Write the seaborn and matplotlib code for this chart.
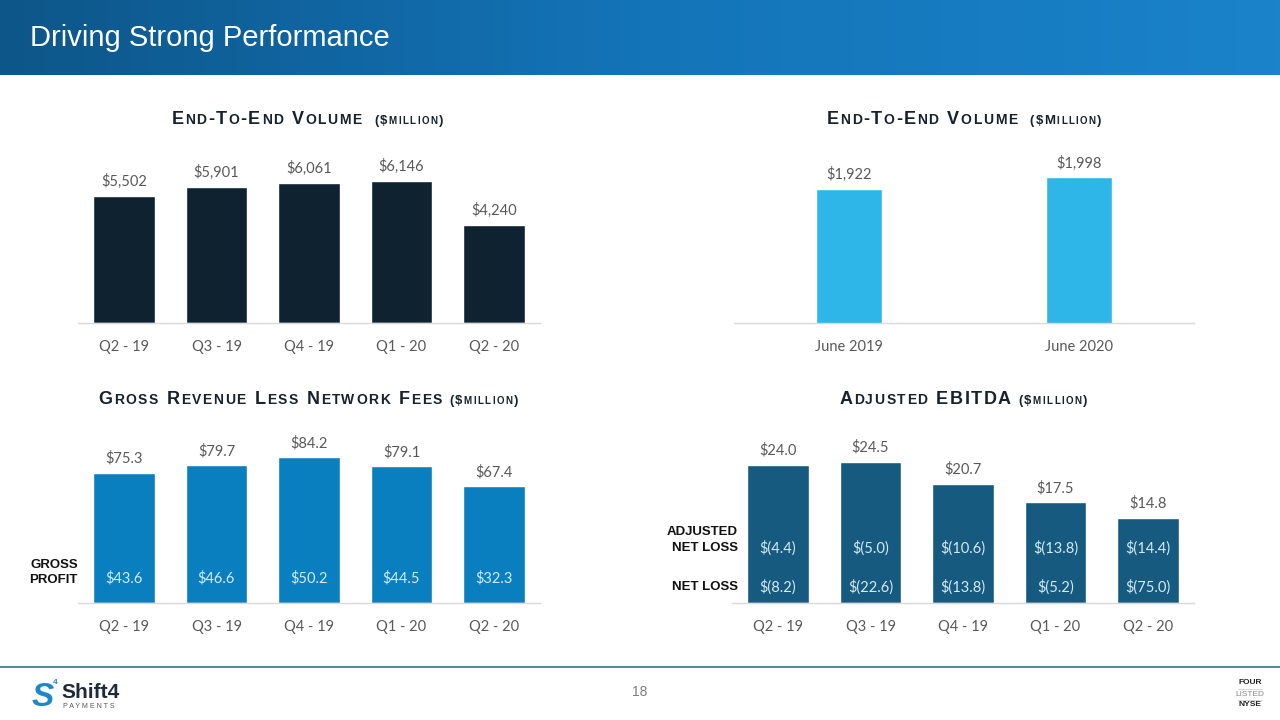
import matplotlib.colors as mcolors
import matplotlib.pyplot as plt
import numpy as np
import pandas as pd
import seaborn as sns

quarters = ["Q2 - 19", "Q3 - 19", "Q4 - 19", "Q1 - 20", "Q2 - 20"]
e2e_volume = [5502, 5901, 6061, 6146, 4240]
june_periods = ["June 2019", "June 2020"]
june_volume = [1922, 1998]
gross_rev = [75.3, 79.7, 84.2, 79.1, 67.4]
gross_profit = [43.6, 46.6, 50.2, 44.5, 32.3]
adj_ebitda = [24.0, 24.5, 20.7, 17.5, 14.8]
adj_net_loss = [-4.4, -5.0, -10.6, -13.8, -14.4]
net_loss = [-8.2, -22.6, -13.8, -5.2, -75.0]

W, H = 1280, 720
TITLE_C = "#17222d"
LABEL_C = "#595959"
INNER_C = "#d3ebf7"

sns.set_theme(style="white")
plt.rcParams["font.family"] = ["Lato", "DejaVu Sans"]

fig = plt.figure(figsize=(12.8, 7.2), dpi=100)
renderer = fig.canvas.get_renderer()


def money(v, dec=0):
    s = f"{abs(v):,.{dec}f}"
    return f"$({s})" if v < 0 else f"${s}"


def px_axes(x0, x1, ytop, ybot):
    return fig.add_axes([x0 / W, 1 - ybot / H, (x1 - x0) / W, (ybot - ytop) / H])


def bar_panel(ax, cats, vals, color, width, ylim, labels):
    df = pd.DataFrame({"cat": cats, "val": vals})
    sns.barplot(data=df, x="cat", y="val", color=color, width=width,
                saturation=1, ax=ax)
    ax.set_xlim(-0.5, len(cats) - 0.5)
    ax.set_ylim(*ylim)
    ax.set_xlabel("")
    ax.set_ylabel("")
    ax.set_yticks([])
    sns.despine(ax=ax, left=True)
    ax.spines["bottom"].set_color("#d9d9d9")
    ax.spines["bottom"].set_linewidth(1)
    ax.tick_params(axis="x", length=0, pad=12, labelcolor=LABEL_C, labelsize=10.5)
    ax.patch.set_alpha(0)
    ax.bar_label(ax.containers[0], labels=labels, padding=5,
                 color=LABEL_C, fontsize=10.5)


def smallcaps(xc, y_base, parts, tracking=1.5):
    # parts: (text, big size, small size); lowercase letters become small caps
    items = []
    total = 0
    for text, big, small in parts:
        for ch in text:
            size = small if ch.islower() else big
            if ch == " ":
                w = size * 0.4 * 100 / 72
                items.append((None, w))
            else:
                t = fig.text(0, 1 - y_base / H, ch.upper(), fontsize=size,
                             fontweight="bold", family="Liberation Sans",
                             color=TITLE_C, va="baseline")
                w = t.get_window_extent(renderer).width + tracking
                items.append((t, w))
            total += w
    x = xc - total / 2
    for t, w in items:
        if t is not None:
            t.set_x(x / W)
        x += w


def row_label(x_px, y_px, txt):
    fig.text(x_px / W, 1 - y_px / H, txt, ha="right", va="center", fontsize=9.5,
             fontweight="bold", family="Liberation Sans", color="#111111")


# header band
hdr = fig.add_axes([0, 1 - 75 / H, 1, 75 / H])
cmap = mcolors.LinearSegmentedColormap.from_list("hdr", ["#0d5689", "#1474b8", "#1a83ca"])
hdr.imshow(np.linspace(0, 1, 256)[None, :], aspect="auto", cmap=cmap, extent=[0, 1, 0, 1])
hdr.axis("off")
fig.text(30 / W, 1 - 38 / H, "Driving Strong Performance", color="white",
         fontsize=21, family="Liberation Sans", va="center")

# top-left: end-to-end volume by quarter
ax1 = px_axes(77.75, 540.25, 150, 323)
bar_panel(ax1, quarters, e2e_volume, "#0f2230", 0.67, (0, 7500),
          [money(v) for v in e2e_volume])
smallcaps(308, 124, [("End-To-End Volume", 13, 10), ("  ", 10, 10), ("($million)", 9.5, 7)])

# top-right: end-to-end volume, June
ax2 = px_axes(734, 1194, 148, 323)
bar_panel(ax2, june_periods, june_volume, "#2eb6e8", 0.287, (1000, 2200),
          [money(v) for v in june_volume])
smallcaps(965, 124, [("End-To-End Volume", 13, 10), ("  ", 10, 10), ("($Million)", 9.5, 7)])

# bottom-left: gross revenue less network fees
ax3 = px_axes(77.75, 540.25, 430, 603)
bar_panel(ax3, quarters, gross_rev, "#0a7fc0", 0.67, (0, 100),
          [money(v, 1) for v in gross_rev])
smallcaps(309, 404, [("Gross Revenue Less Network Fees", 13, 10), (" ", 10, 10), ("($million)", 9.5, 7)])
for i, v in enumerate(gross_profit):
    ax3.text(i, (603 - 578) / 173, money(v, 1), transform=ax3.get_xaxis_transform(),
             ha="center", va="center", color=INNER_C, fontsize=10.5)
row_label(78, 565, "GROSS")
row_label(78, 580, "PROFIT")

# bottom-right: adjusted EBITDA
ax4 = px_axes(731.75, 1194.25, 430, 603)
bar_panel(ax4, quarters, adj_ebitda, "#165a7f", 0.67, (0, 30),
          [money(v, 1) for v in adj_ebitda])
smallcaps(964, 404, [("Adjusted EBITDA", 13, 10), (" ", 10, 10), ("($million)", 9.5, 7)])
for i, (a, n) in enumerate(zip(adj_net_loss, net_loss)):
    ax4.text(i, (603 - 548) / 173, money(a, 1), transform=ax4.get_xaxis_transform(),
             ha="center", va="center", color=INNER_C, fontsize=10.5)
    ax4.text(i, (603 - 587) / 173, money(n, 1), transform=ax4.get_xaxis_transform(),
             ha="center", va="center", color=INNER_C, fontsize=10.5)
row_label(738, 532, "ADJUSTED")
row_label(738, 548, "NET LOSS")
row_label(738, 587, "NET LOSS")

# footer
fig.add_artist(plt.Line2D([0, 1], [1 - 667 / H] * 2, color="#3a6f8c", lw=1.2,
                          transform=fig.transFigure))
fig.text(640 / W, 1 - 692 / H, "18", ha="center", va="center", fontsize=10,
         color="#7f7f7f", family="Liberation Sans")
fig.text(43 / W, 1 - 697 / H, "S", ha="center", va="center", fontsize=24,
         fontweight="bold", style="italic", color="#1d87c7", family="Liberation Sans")
fig.text(55 / W, 1 - 683 / H, "4", ha="center", va="center", fontsize=6,
         fontweight="bold", color="#1d87c7", family="Liberation Sans")
fig.text(61 / W, 1 - 692 / H, "Shift4", ha="left", va="center", fontsize=15,
         fontweight="bold", color="#1e2a3a", family="Liberation Sans")
fig.text(63 / W, 1 - 707 / H, "P A Y M E N T S", ha="left", va="center", fontsize=5,
         color="#555555", family="Liberation Sans")
for txt, y, wgt, col in [("FOUR", 683, "bold", "#222222"), ("LISTED", 694, "normal", "#888888"),
                         ("NYSE", 705, "bold", "#222222")]:
    fig.text(1250 / W, 1 - y / H, txt, ha="center", va="center", fontsize=6,
             fontweight=wgt, color=col, family="Liberation Sans")
for y in (688.5, 699.5):
    fig.add_artist(plt.Line2D([1238 / W, 1262 / W], [1 - y / H] * 2, color="#cccccc",
                              lw=0.6, transform=fig.transFigure))

fig.savefig("out.png", dpi=100)
